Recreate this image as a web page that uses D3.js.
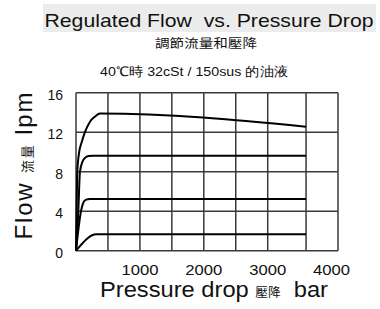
<!DOCTYPE html>
<html><head><meta charset="utf-8">
<script src="https://cdn.jsdelivr.net/npm/d3@7"></script>
<style>
html,body{margin:0;padding:0;background:#fff;}
text{font-family:"Liberation Sans",Arial,sans-serif;fill:#111;}
.cjk{font-family:"Noto Sans CJK TC","Noto Sans CJK SC",sans-serif;}
</style></head><body>
<svg id="c" width="380" height="309"></svg>
<script>
// ---- data ----
const titleText = "Regulated Flow  vs. Pressure Drop";
const subtitleCN = "調節流量和壓降";
const conditionText = "40℃時 32cSt / 150sus 的油液";
const xTicks = [1000, 2000, 3000, 4000];
const yTicks = [0, 4, 8, 12, 16];
const xGrid = [0, 500, 1000, 1500, 2000, 2500, 3000, 3600, 4100];
const yGrid = [0, 4, 8, 12, 16];
// series: pressure (bar) and flow (lpm)
const p14 = [0, 10, 20, 50, 90, 140, 219, 300, 375, 3600];
const q14 = [0, 4, 8, 10, 11, 12, 13.06, 13.6, 13.9, 12.56];
const p10 = [0, 36, 62, 100, 140, 200, 260, 3600];
const q10 = [0, 4, 8, 9.0, 9.4, 9.58, 9.62, 9.62];
const p5 = [0, 78, 110, 150, 220, 3600];
const q5 = [0, 4, 4.8, 5.15, 5.24, 5.24];
const p2 = [0, 320, 3600];
const q2 = [0, 1.66, 1.66];

const svg = d3.select("#c");
const x = d3.scaleLinear().domain([0, 4100]).range([76, 338]);
const y = d3.scaleLinear().domain([0, 16]).range([250.7, 92.7]);

// title
svg.append("rect").attr("x", 43).attr("y", 4).attr("width", 333).attr("height", 28).attr("fill", "#ececec");
svg.append("text").attr("x", 209).attr("y", 26.5).attr("text-anchor", "middle")
  .style("font-size", "19px").style("white-space", "pre")
  .attr("textLength", 329).attr("lengthAdjust", "spacingAndGlyphs").text(titleText);
svg.append("text").attr("class", "cjk").attr("x", 206).attr("y", 48).attr("text-anchor", "middle")
  .style("font-size", "12.5px").attr("textLength", 102).attr("lengthAdjust", "spacingAndGlyphs").text(subtitleCN);
svg.append("text").attr("x", 194).attr("y", 76).attr("text-anchor", "middle")
  .style("font-size", "13px").attr("textLength", 188).attr("lengthAdjust", "spacingAndGlyphs").text(conditionText);

// grid
const g = svg.append("g");
g.selectAll("line.v").data(xGrid).join("line").attr("class", "v")
  .attr("x1", d => x(d)).attr("x2", d => x(d)).attr("y1", y(0)).attr("y2", y(16))
  .attr("stroke", "#3a3a3a").attr("stroke-width", 1.5);
g.selectAll("line.h").data(yGrid).join("line").attr("class", "h")
  .attr("x1", x(0)).attr("x2", x(4100)).attr("y1", d => y(d)).attr("y2", d => y(d))
  .attr("stroke", "#3a3a3a").attr("stroke-width", 1.5);

// ticks
svg.selectAll("text.xt").data(xTicks).join("text").attr("class", "xt")
  .attr("x", d => x(d)).attr("y", 275).attr("text-anchor", "middle")
  .style("font-size", "15.5px").attr("textLength", 37).attr("lengthAdjust", "spacingAndGlyphs").text(d => d);
svg.selectAll("text.yt").data(yTicks).join("text").attr("class", "yt")
  .attr("x", 63).attr("y", d => y(d) + 7).attr("text-anchor", "end")
  .style("font-size", "14px").text(d => d);

// curves
const series = [[p14, q14], [p10, q10], [p5, q5], [p2, q2]];
const line = d3.line().x(d => x(d[0])).y(d => y(d[1])).curve(d3.curveMonotoneX);
svg.append("g").selectAll("path").data(series).join("path")
  .attr("d", s => line(s[0].map((p, i) => [p, s[1][i]])))
  .attr("fill", "none").attr("stroke", "#000").attr("stroke-width", 2);

// axis titles
const xt = svg.append("text").attr("x", 214).attr("y", 297).attr("text-anchor", "middle")
  .style("font-size", "22.5px").style("white-space", "pre")
  .attr("textLength", 228).attr("lengthAdjust", "spacingAndGlyphs");
xt.append("tspan").text("Pressure drop ");
xt.append("tspan").attr("class", "cjk").style("font-size", "12px").text("壓降");
xt.append("tspan").text("  bar");

const yt = svg.append("text").attr("transform", "translate(32,166) rotate(-90)").attr("text-anchor", "middle")
  .style("font-size", "24px").style("white-space", "pre")
  .attr("textLength", 147).attr("lengthAdjust", "spacing");
yt.append("tspan").text("Flow ");
yt.append("tspan").attr("class", "cjk").style("font-size", "13px").text("流量");
yt.append("tspan").text(" lpm");
</script>
</body></html>
